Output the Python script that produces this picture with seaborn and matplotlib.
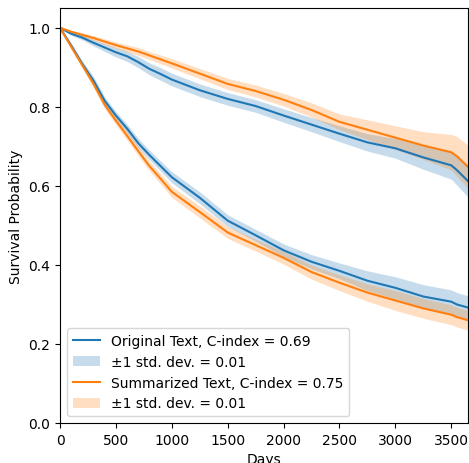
import numpy as np
import matplotlib.pyplot as plt
import seaborn as sns
from matplotlib.lines import Line2D
from matplotlib.patches import Patch

# days on the x axis
days = [0, 100, 200, 300, 400, 500, 600, 700, 800, 900, 1000, 1250, 1500,
        1750, 2000, 2250, 2500, 2750, 3000, 3250, 3500, 3550, 3650]

# original text: low-risk (upper) and high-risk (lower) group
orig_hi = [1.0, 0.985, 0.975, 0.962, 0.950, 0.938, 0.928, 0.913, 0.896, 0.883, 0.869,
           0.842, 0.820, 0.802, 0.778, 0.755, 0.732, 0.710, 0.695, 0.672, 0.652, 0.640, 0.612]
orig_lo = [1.0, 0.955, 0.908, 0.866, 0.815, 0.778, 0.745, 0.708, 0.678, 0.650, 0.622,
           0.570, 0.512, 0.475, 0.437, 0.408, 0.385, 0.360, 0.342, 0.320, 0.307, 0.300, 0.292]

# summarized text
summ_hi = [1.0, 0.990, 0.982, 0.974, 0.965, 0.956, 0.948, 0.940, 0.930, 0.920, 0.910,
           0.884, 0.858, 0.840, 0.818, 0.792, 0.762, 0.742, 0.722, 0.702, 0.685, 0.675, 0.648]
summ_lo = [1.0, 0.952, 0.905, 0.858, 0.805, 0.765, 0.727, 0.688, 0.650, 0.618, 0.585,
           0.534, 0.482, 0.450, 0.418, 0.382, 0.355, 0.330, 0.310, 0.290, 0.274, 0.268, 0.260]

# +-1 std. dev. half widths
orig_hi_sd = [0, .004, .006, .008, .010, .012, .013, .014, .015, .016, .016, .016, .016,
              .016, .017, .018, .020, .022, .025, .030, .035, .038, .040]
orig_lo_sd = [0, .006, .008, .010, .010, .010, .011, .012, .012, .013, .014, .015, .015,
              .015, .016, .018, .020, .025, .028, .030, .030, .030, .030]
summ_hi_sd = [0, .004, .005, .006, .007, .008, .009, .010, .010, .011, .012, .013, .014,
              .015, .016, .018, .020, .025, .030, .035, .045, .050, .055]
summ_lo_sd = [0, .006, .008, .010, .010, .010, .011, .012, .012, .013, .014, .015, .015,
              .015, .016, .018, .020, .022, .025, .025, .025, .025, .025]

labels = ["Original Text, C-index = 0.69", "Summarized Text, C-index = 0.75"]
sd_label = "\u00b11 std. dev. = 0.01"

blue, orange = "#1f77b4", "#ff7f0e"

plt.rcParams["font.size"] = 10

fig = plt.figure(figsize=(4.69, 4.64), dpi=100)
ax = fig.add_axes([60 / 469, 40 / 464, 408 / 469, 415 / 464])

d = np.array(days)
for vals, sd, col in [(orig_hi, orig_hi_sd, blue), (orig_lo, orig_lo_sd, blue),
                      (summ_hi, summ_hi_sd, orange), (summ_lo, summ_lo_sd, orange)]:
    v = np.array(vals)
    s = np.array(sd)
    ax.fill_between(d, v - s, v + s, color=col, alpha=0.25, linewidth=0)
    sns.lineplot(x=d, y=v, ax=ax, color=col, linewidth=1.5, legend=False)

handles = [Line2D([], [], color=blue, lw=1.5), Patch(facecolor=blue, alpha=0.25),
           Line2D([], [], color=orange, lw=1.5), Patch(facecolor=orange, alpha=0.25)]
ax.legend(handles, [labels[0], sd_label, labels[1], sd_label], loc="lower left")

ax.set_xlim(0, 3650)
ax.set_ylim(0, 1.05)
ax.set_xlabel("Days")
ax.set_ylabel("Survival Probability")

fig.savefig("out.png", dpi=100)
